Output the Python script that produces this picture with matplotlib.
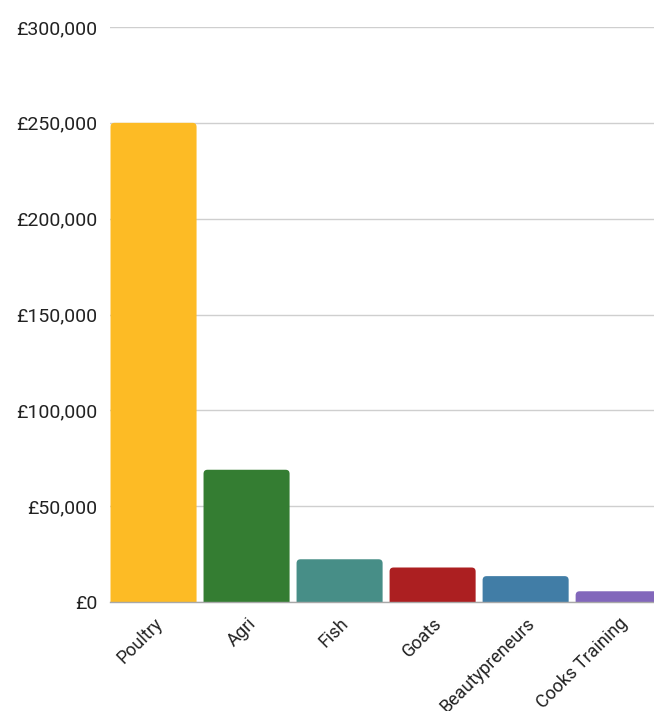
"""Funding by programme bar chart."""
import matplotlib
matplotlib.use("Agg")
import matplotlib.pyplot as plt
from matplotlib.patches import FancyBboxPatch
from matplotlib.ticker import FuncFormatter

# ── Data ──────────────────────────────────────────────────────────────────────
CATEGORIES = ["Poultry", "Agri", "Fish", "Goats", "Beautypreneurs", "Cooks Training"]
VALUES = [250000, 69000, 22300, 18000, 13500, 5600]
COLORS = ["#fdbb25", "#347d32", "#478e87", "#ac1f21", "#417da6", "#8267bb"]
Y_TICKS = [0, 50000, 100000, 150000, 200000, 250000, 300000]

plt.rcParams["font.family"] = ["Roboto", "DejaVu Sans"]

W, H = 654, 711
fig = plt.figure(figsize=(W / 100, H / 100), dpi=100)
ax = fig.add_axes([110 / W, 1 - 602 / H, 1 - 110 / W, (602 - 27) / H])

ax.set_xlim(-0.468, 5.38)
ax.set_ylim(0, 300000)

# rounded-top bars: corner radius ~4px, scaled into data units
bar_w = 0.925
px_x = (5.38 + 0.468) / (W - 110)
px_y = 300000 / (602 - 27)
for i, (v, c) in enumerate(zip(VALUES, COLORS)):
    box = FancyBboxPatch((i - bar_w / 2, -20000), bar_w, v + 20000,
                         boxstyle=f"round,pad=0,rounding_size={4 * px_x}",
                         mutation_aspect=px_y / px_x,
                         facecolor=c, edgecolor="none", zorder=3)
    ax.add_patch(box)

ax.set_yticks(Y_TICKS)
ax.yaxis.set_major_formatter(FuncFormatter(lambda v, _: f"£{int(v):,}"))
ax.tick_params(axis="y", length=0, pad=9, labelsize=14, labelcolor="#222222")
ax.yaxis.grid(True, color="#cfcfcf", linewidth=1, zorder=0)
ax.set_axisbelow(True)

ax.set_xticks(range(len(CATEGORIES)))
ax.set_xticklabels(CATEGORIES, rotation=45, ha="right", rotation_mode="anchor",
                   fontsize=13, color="#222222")
ax.tick_params(axis="x", length=0, pad=9)

for s in ["top", "right", "left"]:
    ax.spines[s].set_visible(False)
ax.spines["bottom"].set_color("#a8a8a8")
ax.spines["bottom"].set_linewidth(1)
ax.spines["bottom"].set_zorder(4)

fig.savefig("out.png", dpi=100)
